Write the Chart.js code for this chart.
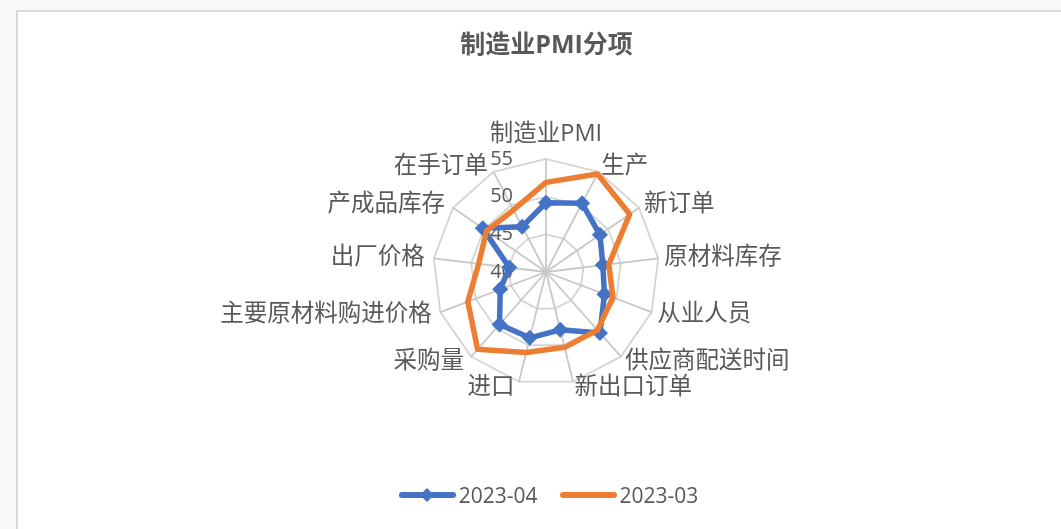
<!DOCTYPE html>
<html>
<head>
<meta charset="utf-8">
<script src="https://cdn.jsdelivr.net/npm/chart.js@4.4.0/dist/chart.umd.min.js"></script>
<style>
    body {
        margin: 0;
        width: 1061px;
        height: 529px;
        overflow: hidden;
        position: relative;
        background: #f8f8f8;
        font-family: "Open Sans", "Noto Sans CJK SC", sans-serif;
    }
    .frame {
        position: absolute;
        left: 16px;
        top: 10px;
        width: 1100px;
        height: 600px;
        background: #fff;
        border-left: 2px solid #d9d9d9;
        border-top: 2px solid #d9d9d9;
    }
    #chart-pmi {
        position: absolute;
        left: 0;
        top: 0;
    }
    #legend-pmi {
        position: absolute;
        left: 18px;
        top: 482px;
        width: 1061px;
        display: flex;
        justify-content: center;
    }
    .legend-item {
        display: flex;
        align-items: center;
        margin: 0 11px;
        font-size: 21px;
        line-height: 26px;
        color: #595959;
    }
    .legend-line {
        display: inline-block;
        position: relative;
        width: 57px;
        height: 6px;
        border-radius: 3px;
        margin-right: 3px;
    }
    .legend-marker {
        position: absolute;
        left: 23.5px;
        top: -2px;
        width: 10px;
        height: 10px;
        transform: rotate(45deg);
    }
</style>
</head>
<body>
<div class="frame"></div>
<canvas id="chart-pmi" width="1061" height="529"></canvas>
<div id="legend-pmi"></div>
<script>
var categories = ["制造业PMI", "生产", "新订单", "原材料库存", "从业人员", "供应商配送时间", "新出口订单",
    "进口", "采购量", "主要原材料购进价格", "出厂价格", "产成品库存", "在手订单"];
var seriesNames = ["2023-04", "2023-03"];
var apr = [49.2, 50.3, 48.7, 47.6, 48.3, 50.8, 47.9, 49.0, 49.3, 46.5, 44.9, 50.2, 46.8];
var mar = [51.9, 54.7, 53.5, 48.4, 49.5, 50.3, 50.3, 51.0, 53.7, 51.1, 49.0, 49.6, 49.3];
var tickValues = [40, 45, 50, 55];

var blue = "#4472C4";
var orange = "#ED7D31";
var textColor = "#595959";
var fontFamily = '"Open Sans", "Noto Sans CJK SC", sans-serif';

// excel puts the value labels left of the vertical axis, under the lines
var tickLabelPlugin = {
    id: "tickLabels",
    beforeDatasetsDraw: function (chart) {
        var scale = chart.scales.r;
        var ctx = chart.ctx;
        ctx.save();
        ctx.font = "20px " + fontFamily;
        ctx.fillStyle = textColor;
        ctx.textAlign = "right";
        ctx.textBaseline = "middle";
        for (var i = 0; i < tickValues.length; i++) {
            var y = scale.yCenter - scale.getDistanceFromCenterForValue(tickValues[i]);
            ctx.fillText(String(tickValues[i]), scale.xCenter - 33, y);
        }
        ctx.restore();
    }
};

// category labels placed beside each spoke end
var pointLabelPlugin = {
    id: "catLabels",
    afterDraw: function (chart) {
        var scale = chart.scales.r;
        var ctx = chart.ctx;
        ctx.save();
        ctx.font = "23.5px " + fontFamily;
        ctx.fillStyle = textColor;
        ctx.textBaseline = "middle";
        for (var i = 0; i < categories.length; i++) {
            var pos = scale.getPointPosition(i, scale.drawingArea + (i == 0 ? 25 : 6));
            var s = Math.sin(scale.getIndexAngle(i));
            var x = pos.x;
            if (Math.abs(s) < 0.05) {
                ctx.textAlign = "center";
            } else if (s > 0) {
                ctx.textAlign = "left";
            } else {
                ctx.textAlign = "right";
                x -= 3;
            }
            ctx.fillText(categories[i], x, pos.y);
        }
        ctx.restore();
    }
};

var ctx = document.getElementById("chart-pmi");
var myChart = new Chart(ctx, {
    type: "radar",
    data: {
        labels: categories,
        datasets: [{
            label: seriesNames[0],
            data: apr,
            borderColor: blue,
            backgroundColor: blue,
            borderWidth: 5.5,
            pointStyle: "rectRot",
            pointRadius: 8,
            pointBorderWidth: 0,
            pointBackgroundColor: blue,
            borderJoinStyle: "round",
            fill: false,
            order: 1
        }, {
            label: seriesNames[1],
            data: mar,
            borderColor: orange,
            backgroundColor: orange,
            borderWidth: 5.5,
            pointRadius: 0,
            borderJoinStyle: "round",
            fill: false,
            order: 0
        }]
    },
    options: {
        responsive: false,
        animation: false,
        layout: {
            padding: {
                left: 32,
                right: 0,
                top: 0,
                bottom: 144
            }
        },
        elements: {
            line: { tension: 0 }
        },
        scales: {
            r: {
                min: 40,
                max: 55,
                ticks: {
                    stepSize: 5,
                    display: false
                },
                pointLabels: { display: false },
                grid: {
                    circular: false,
                    color: "#d4d4d4",
                    lineWidth: 1.8
                },
                angleLines: {
                    color: "#c8c8c8",
                    lineWidth: 1.8
                }
            }
        },
        plugins: {
            legend: { display: false },
            tooltip: { enabled: false },
            title: {
                display: true,
                text: "制造业PMI分项",
                color: textColor,
                font: {
                    family: fontFamily,
                    size: 25,
                    weight: "bold"
                },
                padding: {
                    top: 31,
                    bottom: 98
                }
            }
        }
    },
    plugins: [tickLabelPlugin, pointLabelPlugin]
});

// html legend, line with marker like the excel one
var html = "";
var sets = myChart.data.datasets;
for (var i = 0; i < sets.length; i++) {
    var color = sets[i].borderColor;
    html += "<div class='legend-item'>";
    html += "<span class='legend-line' style='background:" + color + "'>";
    if (sets[i].pointRadius > 0) {
        html += "<span class='legend-marker' style='background:" + color + "'></span>";
    }
    html += "</span>";
    html += sets[i].label;
    html += "</div>";
}
document.getElementById("legend-pmi").innerHTML = html;
</script>
</body>
</html>
